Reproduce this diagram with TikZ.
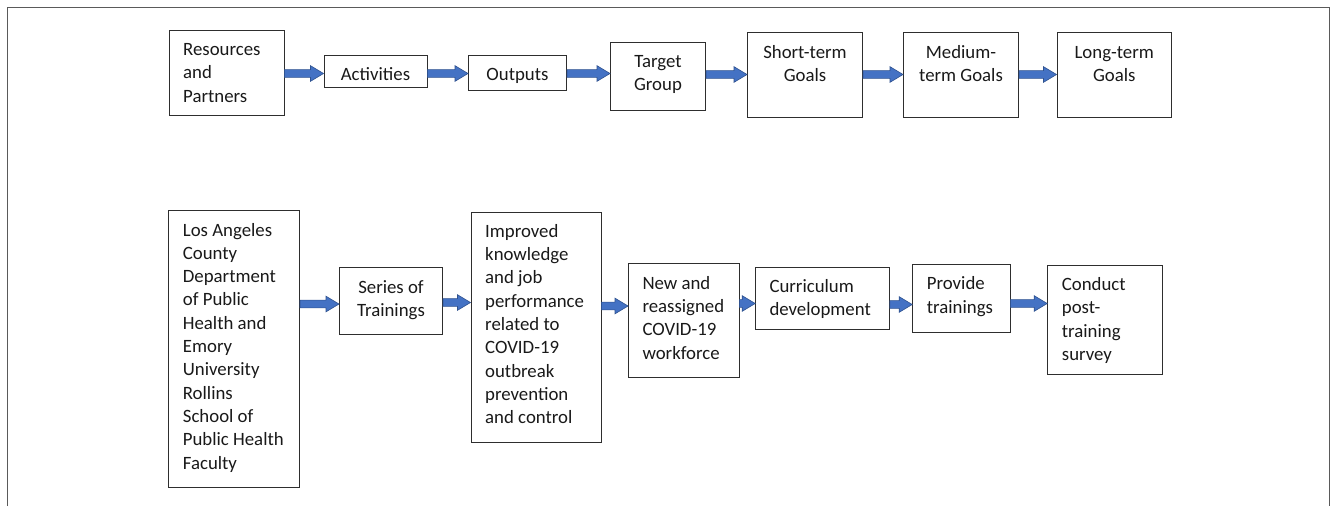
\documentclass[tikz,border=0pt]{standalone}
\usepackage{fontspec}
\setmainfont{Carlito}
\usetikzlibrary{calc}

\definecolor{arrowfill}{HTML}{4472C4}
\definecolor{arrowline}{HTML}{2F528F}
\definecolor{boxline}{HTML}{2E2E2E}
\definecolor{framegray}{HTML}{5A5A5A}

% box given by its corners (left, top, right, bottom)
\newcommand\flowbox[5]{%
  \pgfmathsetmacro\fbW{#4-#2}\pgfmathsetmacro\fbH{#5-#3}%
  \node[flowbox, minimum width=\fbW pt, minimum height=\fbH pt]
    (#1) at ({(#2+#4)/2},{(#3+#5)/2}) {};}

% block arrow from the east side of #1 to the west side of #2 at height #3
\newcommand\flowarrow[3]{%
  \path[blockarrow] let \p1=(#1.east), \p2=(#2.west), \p3=(0,#3) in
    (\x1,\y3+3.9pt) -- (\x2-13pt,\y3+3.9pt) -- (\x2-13pt,\y3+7.8pt)
    -- (\x2,\y3) -- (\x2-13pt,\y3-7.8pt) -- (\x2-13pt,\y3-3.9pt)
    -- (\x1,\y3-3.9pt) -- cycle;}

\newcommand\flowL[1]{\parbox[t]{170pt}{\raggedright #1}}
\newcommand\flowC[1]{\parbox[t]{170pt}{\centering #1}}

\begin{document}
\begin{tikzpicture}[x=1pt,y=-1pt,
  font=\fontsize{18.8pt}{23.3pt}\selectfont,
  flowbox/.style={draw=boxline, line width=1pt, inner sep=0pt},
  lefttext/.style={anchor=base west, inner sep=0pt, text=black!90},
  midtext/.style={anchor=base, inner sep=0pt, text=black!90},
  blockarrow/.style={fill=arrowfill, draw=arrowline, line width=0.6pt},
  frameline/.style={draw=framegray, line width=1pt}]
\useasboundingbox (0,0) rectangle (1333,506);

% outer frame (open at the bottom)
\draw[frameline] (7,506) -- (7,7) -- (1329,7) -- (1329,506);

% ---- generic logic model ----
\flowbox{res}{169.5}{30}{284}{115.5}
\flowbox{act}{324}{55.7}{427}{87.5}
\flowbox{out}{468.5}{55.3}{566.5}{90}
\flowbox{tgt}{610.5}{42.3}{705.5}{110}
\flowbox{sht}{747.5}{32.5}{862.5}{117.8}
\flowbox{med}{903.5}{32.5}{1018.5}{117.8}
\flowbox{lng}{1057}{32.5}{1171.5}{117.8}

\node[lefttext] (res-t) at (183,55.5) {\flowL{Resources\\and\\Partners}};
\node[midtext] (act-t) at (act.center |- 0,80.5) {\flowC{Activities}};
\node[midtext] (out-t) at (out.center |- 0,80.5) {\flowC{Outputs}};
\node[midtext] (tgt-t) at (tgt.center |- 0,67.5) {\flowC{Target\\Group}};
\node[midtext] (sht-t) at (sht.center |- 0,58) {\flowC{Short-term\\Goals}};
\node[midtext] (med-t) at (med.center |- 0,58) {\flowC{Medium-\\term Goals}};
\node[midtext] (lng-t) at (lng.center |- 0,58) {\flowC{Long-term\\Goals}};

\flowarrow{res}{act}{73.5}
\flowarrow{act}{out}{73.5}
\flowarrow{out}{tgt}{73.5}
\flowarrow{tgt}{sht}{74.5}
\flowarrow{sht}{med}{74.5}
\flowarrow{med}{lng}{74.5}

% ---- COVID-19 training program ----
\flowbox{la}{168.5}{210}{299.5}{487}
\flowbox{ser}{339.5}{267.5}{442.5}{334.5}
\flowbox{imp}{471}{212.7}{601}{442.3}
\flowbox{new}{628.5}{263.5}{739}{377.3}
\flowbox{cur}{755.7}{267.3}{889.3}{329.3}
\flowbox{prv}{912.7}{264.7}{1010}{332}
\flowbox{cnd}{1047.7}{265}{1162.7}{374.3}

\node[lefttext] (la-t) at (182.7,236) {\flowL{Los Angeles\\County\\Department\\of Public\\Health and\\Emory\\University\\Rollins\\School of\\Public Health\\Faculty}};
\node[midtext] (ser-t) at (ser.center |- 0,293.5) {\flowC{Series of\\Trainings}};
\node[lefttext] (imp-t) at (485,237.3) {\flowL{Improved\\knowledge\\and job\\performance\\related to\\COVID-19\\outbreak\\prevention\\and control}};
\node[lefttext] (new-t) at (642.3,289.3) {\flowL{New and\\reassigned\\COVID-19\\workforce}};
\node[lefttext] (cur-t) at (769.3,292.5) {\flowL{Curriculum\\development}};
\node[lefttext] (prv-t) at (926.7,289.7) {\flowL{Provide\\trainings}};
\node[lefttext] (cnd-t) at (1061.7,290.5) {\flowL{Conduct\\post-\\training\\survey}};

\flowarrow{la}{ser}{304}
\flowarrow{ser}{imp}{302.5}
\flowarrow{imp}{new}{306}
\flowarrow{new}{cur}{303.5}
\flowarrow{cur}{prv}{304.5}
\flowarrow{prv}{cnd}{303.5}
\end{tikzpicture}
\end{document}
